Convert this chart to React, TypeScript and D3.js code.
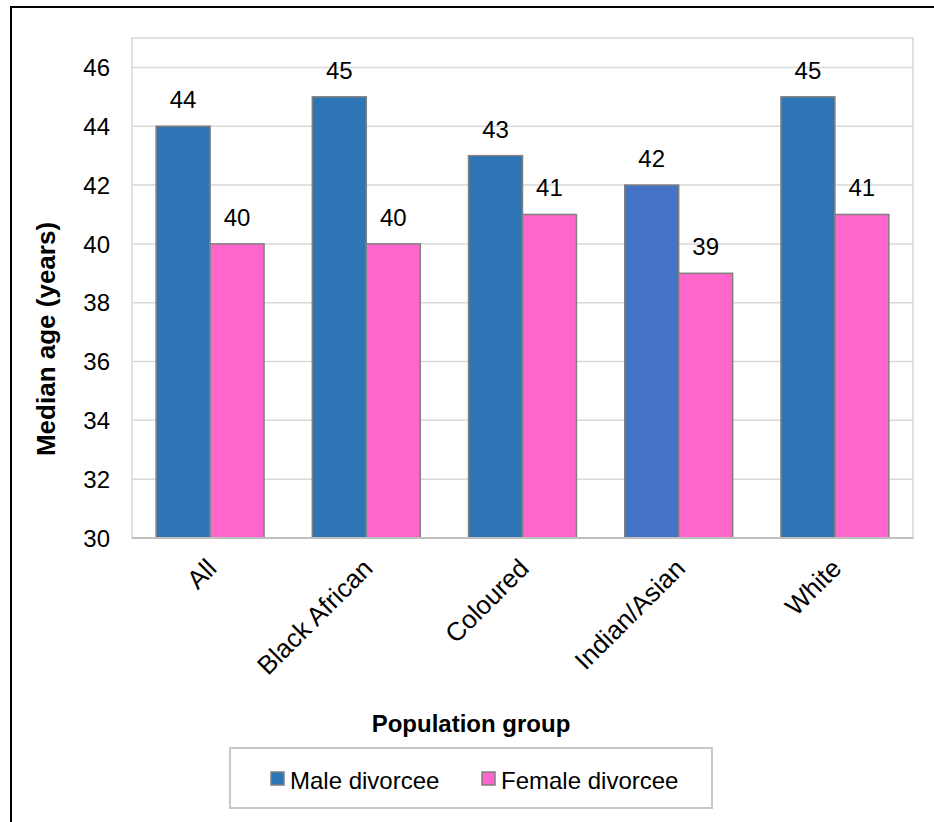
import React from "react";
import * as d3 from "d3";

// Median age at divorce by population group
const groups = ["All", "Black African", "Coloured", "Indian/Asian", "White"];
const maleValues = [44, 45, 43, 42, 45];
const femaleValues = [40, 40, 41, 39, 41];
const seriesNames = ["Male divorcee", "Female divorcee"];
const yTicks = [30, 32, 34, 36, 38, 40, 42, 44, 46];

const W = 934;
const H = 822;
const FONT = "'Liberation Sans', Arial, Helvetica, sans-serif";

const MALE = "#2E75B6";
const MALE_ALT = "#4472C4";
const FEMALE = "#FF66CC";
const BAR_STROKE = "#808080";
const GRID = "#D9D9D9";

export default function App() {
  const plot = { left: 132, right: 913, top: 38, bottom: 538 };

  const x0 = d3.scaleBand<string>().domain(groups).range([plot.left, plot.right]);
  const bw = x0.bandwidth();
  const x1 = d3
    .scaleBand<string>()
    .domain(seriesNames)
    .range([bw * 0.1545, bw * 0.8455]);
  const y = d3.scaleLinear().domain([30, 47]).range([plot.bottom, plot.top]);

  const rows = groups.map((g, i) => ({
    group: g,
    values: [
      { name: seriesNames[0], value: maleValues[i], fill: g === "Indian/Asian" ? MALE_ALT : MALE },
      { name: seriesNames[1], value: femaleValues[i], fill: FEMALE },
    ],
  }));

  const legendCx = 471;

  return (
    <svg
      width={W}
      height={H}
      style={{ position: "absolute", left: 0, top: 0, background: "#fff" }}
      fontFamily={FONT}
    >
      <rect x={0} y={0} width={W} height={H} fill="#fff" />
      {/* chart frame */}
      <rect x={11} y={7} width={940} height={830} fill="none" stroke="#000" strokeWidth={2} />

      {/* plot area frame and gridlines */}
      <rect
        x={plot.left}
        y={plot.top}
        width={plot.right - plot.left}
        height={plot.bottom - plot.top}
        fill="none"
        stroke={GRID}
        strokeWidth={1.5}
      />
      {yTicks
        .filter((t) => t !== 30)
        .map((t) => (
          <line
            key={`g${t}`}
            x1={plot.left}
            x2={plot.right}
            y1={y(t)}
            y2={y(t)}
            stroke={GRID}
            strokeWidth={1.5}
          />
        ))}

      {/* y tick labels */}
      {yTicks.map((t) => (
        <text
          key={`t${t}`}
          x={110}
          y={y(t)}
          dy="0.36em"
          textAnchor="end"
          fontSize={24}
          fill="#000"
        >
          {t}
        </text>
      ))}

      {/* bars */}
      {rows.map((r) => (
        <g key={r.group} transform={`translate(${x0(r.group)},0)`}>
          {r.values.map((v) => (
            <g key={v.name}>
              <rect
                x={x1(v.name)!}
                y={y(v.value)}
                width={x1.bandwidth()}
                height={y(30) - y(v.value)}
                fill={v.fill}
                stroke={BAR_STROKE}
                strokeWidth={1.5}
              />
              <text
                x={x1(v.name)! + x1.bandwidth() / 2}
                y={y(v.value) - 18}
                textAnchor="middle"
                fontSize={24}
                fill="#000"
              >
                {v.value}
              </text>
            </g>
          ))}
        </g>
      ))}

      {/* category axis line */}
      <line
        x1={plot.left}
        x2={plot.right}
        y1={plot.bottom}
        y2={plot.bottom}
        stroke="#BFBFBF"
        strokeWidth={2}
      />

      {/* category labels */}
      {groups.map((g) => {
        const cx = x0(g)! + bw / 2 + 8;
        const cy = 570;
        return (
          <text
            key={`c${g}`}
            x={cx}
            y={cy}
            textAnchor="end"
            fontSize={26}
            fill="#000"
            transform={`rotate(-45 ${cx} ${cy})`}
          >
            {g}
          </text>
        );
      })}

      {/* axis titles */}
      <text x={legendCx} y={732} textAnchor="middle" fontSize={24} fontWeight="bold" fill="#000">
        Population group
      </text>
      <text
        x={0}
        y={0}
        textAnchor="middle"
        fontSize={26}
        fontWeight="bold"
        fill="#000"
        transform="translate(55,339) rotate(-90)"
      >
        Median age (years)
      </text>

      {/* legend */}
      <rect x={230} y={748} width={482} height={60} fill="#fff" stroke="#C8C8C8" strokeWidth={2} />
      {[
        { name: seriesNames[0], fill: MALE, x: 271 },
        { name: seriesNames[1], fill: FEMALE, x: 482 },
      ].map((l) => (
        <g key={l.name}>
          <rect x={l.x} y={772} width={13} height={13} fill={l.fill} stroke={BAR_STROKE} strokeWidth={1.5} />
          <text x={l.x + 19} y={789} fontSize={24} fill="#000">
            {l.name}
          </text>
        </g>
      ))}
    </svg>
  );
}
